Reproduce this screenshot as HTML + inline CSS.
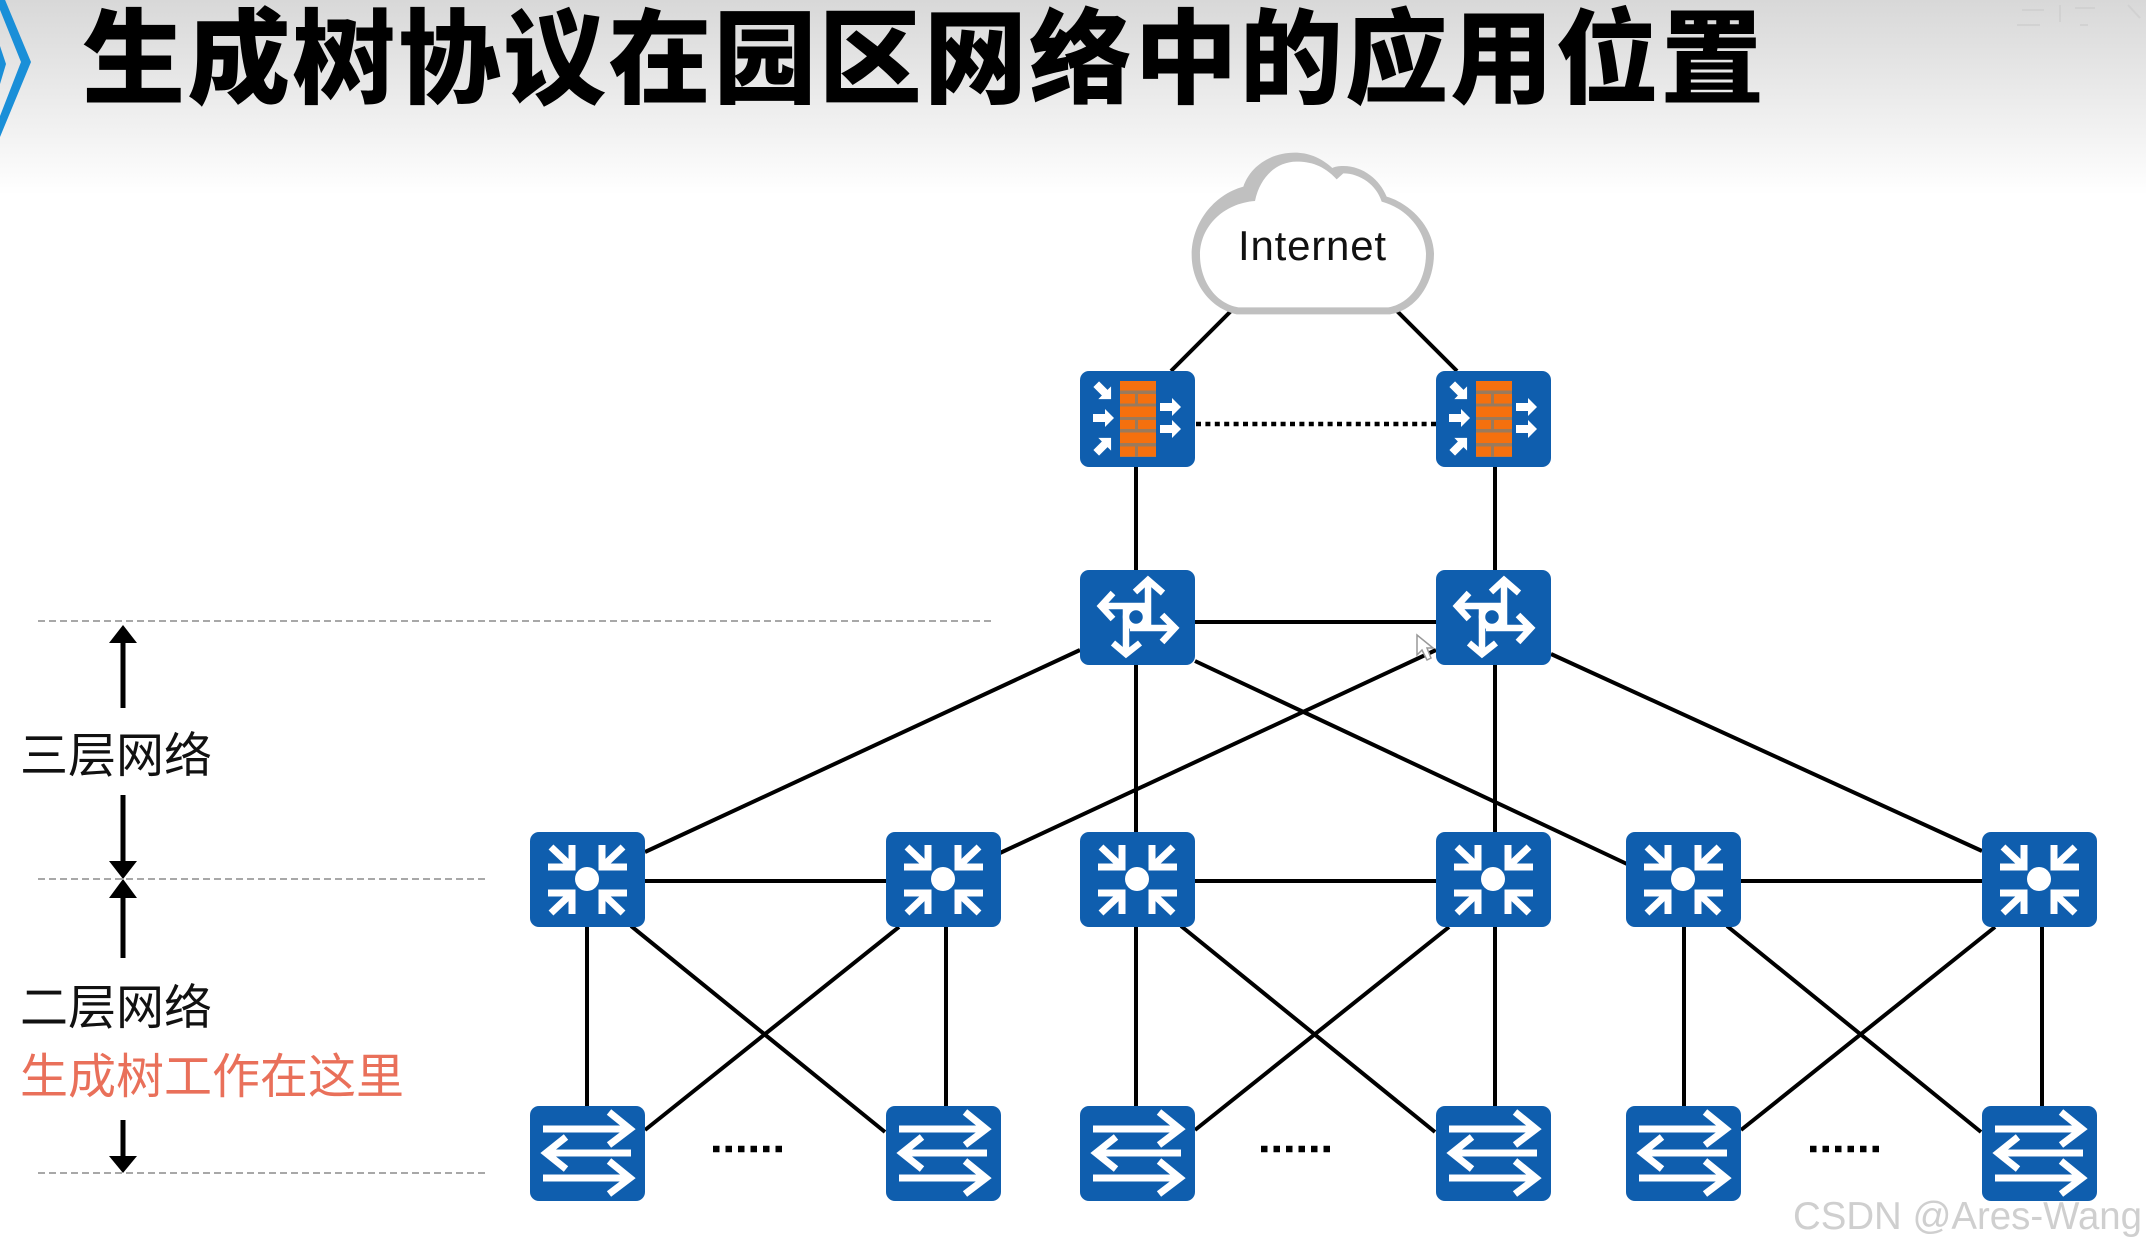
<!DOCTYPE html>
<html><head><meta charset="utf-8"><style>
html,body{margin:0;padding:0;background:#fff;width:2146px;height:1252px;overflow:hidden}
svg{display:block}
.cn{font-family:"Liberation Sans","Noto Sans CJK SC",sans-serif}
</style></head><body>
<svg width="2146" height="1252" viewBox="0 0 2146 1252" xmlns="http://www.w3.org/2000/svg">
<defs>
<linearGradient id="hd" x1="0" y1="0" x2="0" y2="1">
<stop offset="0" stop-color="#d8d8d8"/><stop offset=".5" stop-color="#ebebeb"/><stop offset="1" stop-color="#ffffff"/>
</linearGradient>
<polygon id="ar" points="-11,-4 1,-4 1,-9 10,0 1,9 1,4 -11,4" fill="#fff"/>
<g id="agg">
<rect width="115" height="95" rx="9" fill="#0f5eae"/>
<g fill="none" stroke="#fff" stroke-width="7">
<path d="M42 13V35H18M42 35L21 15"/>
<path d="M72 13V35H97M72 35L93 15"/>
<path d="M42 82V61H18M42 61L21 81"/>
<path d="M72 82V61H97M72 61L93 81"/>
</g>
<circle cx="57" cy="47" r="12" fill="#fff"/>
</g>
<g id="sw">
<rect width="115" height="95" rx="9" fill="#0f5eae"/>
<g fill="none" stroke="#fff" stroke-width="7">
<path d="M13 23H98M79 6L100 23L79 39"/>
<path d="M101 47H18M36 31L16 47L36 63"/>
<path d="M13 72H98M79 55L100 72L79 88"/>
</g>
</g>
<g id="rt">
<rect width="115" height="95" rx="9" fill="#0f5eae"/>
<g fill="none" stroke="#fff" stroke-width="6.5">
<path d="M68 56V10M55 22L68 10L83 23"/>
<path d="M50 58H94M82 45L95 58L82 72"/>
<path d="M46 38V84M33 73L46 84L60 73"/>
<path d="M68 36H21M33 23L21 36L33 49"/>
<circle cx="56" cy="47" r="10" fill="#0f5eae"/>
</g>
</g>
<g id="fw">
<rect width="115" height="96" rx="9" fill="#0f5eae"/>
<rect x="40" y="10" width="36" height="76" fill="#9a7a5c"/>
<g fill="#f5700e">
<rect x="40" y="10" width="36" height="9.5"/>
<rect x="40" y="23" width="15" height="9.5"/><rect x="58" y="23" width="18" height="9.5"/>
<rect x="40" y="35.5" width="36" height="10.5"/>
<rect x="40" y="49" width="15" height="9"/><rect x="58" y="49" width="18" height="9"/>
<rect x="40" y="61.5" width="36" height="10.5"/>
<rect x="40" y="75.5" width="15" height="10"/><rect x="58" y="75.5" width="18" height="10"/>
</g>
<use href="#ar" transform="translate(24,21) rotate(45)"/>
<use href="#ar" transform="translate(24,47)"/>
<use href="#ar" transform="translate(24,74) rotate(-45)"/>
<use href="#ar" transform="translate(91,36)"/>
<use href="#ar" transform="translate(91,58)"/>
</g>
</defs>

<rect width="2146" height="1252" fill="#fff"/>
<rect width="2146" height="195" fill="url(#hd)"/>

<!-- chevron -->
<polygon points="3,-5 31,62 0,137 0,116 21,62 -6,-5" fill="#1a8fd8"/>
<polygon points="0,46 6,64 0,84" fill="#1a8fd8"/>

<!-- faint marks top right -->
<g fill="none" stroke="#cdcdcd" stroke-width="2" opacity=".7">
<path d="M2017 25H2040M2022 10H2044M2060 5V22M2075 8H2095M2080 25H2088M2128 5L2140 18"/>
</g>

<!-- title -->
<text class="cn" x="82" y="95" font-size="103" letter-spacing="2.25" font-weight="900" fill="#000">生成树协议在园区网络中的应用位置</text>

<!-- connectors -->
<g stroke="#000" stroke-width="4" fill="none">
<path d="M1232 310L1171 371"/>
<path d="M1396 310L1457 371"/>
<path d="M1136 467V570"/>
<path d="M1495 467V570"/>
<path d="M1195 622H1436"/>
<path d="M1080 650L645 852"/>
<path d="M1436 650L1000 853"/>
<path d="M1195 661L1627 864"/>
<path d="M1551 654L1982 851"/>
<path d="M1136 665V832"/>
<path d="M1495 665V832"/>
<path d="M645 881H886"/>
<path d="M1195 881H1436"/>
<path d="M1741 881H1982"/>
<path d="M587 927V1106"/><path d="M946 927V1106"/>
<path d="M1136 927V1106"/><path d="M1495 927V1106"/>
<path d="M1684 927V1106"/><path d="M2042 927V1106"/>
<path d="M631 926L885 1132"/><path d="M899 927L645 1130"/>
<path d="M1181 926L1435 1132"/><path d="M1449 927L1195 1130"/>
<path d="M1727 926L1981 1132"/><path d="M1995 927L1741 1130"/>
</g>
<path d="M1196 424H1436" stroke="#000" stroke-width="4.5" stroke-dasharray="5 4.4" fill="none"/>

<!-- dots -->
<g stroke="#000" stroke-width="6.5" stroke-dasharray="6.5 6" fill="none">
<path d="M713 1149H782"/><path d="M1261 1149H1330"/><path d="M1810 1149H1879"/>
</g>

<!-- cloud -->
<g transform="translate(1170,140) scale(.33333)">
<path fill="#c0c0c0" d="M200 523L660 523C740 510 792 430 792 340C790 260 720 190 650 170C630 120 580 78 520 78C505 78 495 80 487 84C450 50 410 38 375 38C300 38 240 80 220 140C130 165 65 250 65 345C65 430 120 505 200 523Z"/>
<path fill="#fff" d="M205 502L655 502C725 490 768 420 768 340C765 270 710 205 635 185C620 135 570 100 520 100L500 118C460 75 420 65 380 65C320 65 270 110 255 183C160 190 90 260 90 345C90 420 135 490 205 502Z"/>
</g>
<text x="1238" y="260" font-family="'Liberation Sans',sans-serif" font-size="42" letter-spacing=".8" fill="#111">Internet</text>

<!-- nodes -->
<use href="#fw" x="1080" y="371"/><use href="#fw" x="1436" y="371"/>
<use href="#rt" x="1080" y="570"/><use href="#rt" x="1436" y="570"/>
<use href="#agg" x="530" y="832"/><use href="#agg" x="886" y="832"/>
<use href="#agg" x="1080" y="832"/><use href="#agg" x="1436" y="832"/>
<use href="#agg" x="1626" y="832"/><use href="#agg" x="1982" y="832"/>
<use href="#sw" x="530" y="1106"/><use href="#sw" x="886" y="1106"/>
<use href="#sw" x="1080" y="1106"/><use href="#sw" x="1436" y="1106"/>
<use href="#sw" x="1626" y="1106"/><use href="#sw" x="1982" y="1106"/>

<!-- cursor -->
<polygon points="1417,635 1417,655 1422,650 1427,660 1431,658 1427,648 1433,648" fill="#fff" stroke="#999" stroke-width="1.5"/>

<!-- dashed guides -->
<g stroke="#a8a8a8" stroke-width="2" stroke-dasharray="7 4" fill="none">
<path d="M38 621H992"/><path d="M38 879H485"/><path d="M38 1173H485"/>
</g>

<!-- level arrows -->
<g stroke="#000" stroke-width="5" fill="none">
<path d="M123 643V708"/><path d="M123 795V861"/><path d="M123 898V958"/><path d="M123 1120V1156"/>
</g>
<g fill="#000">
<polygon points="123,625 109,643 137,643"/>
<polygon points="123,879 109,861 137,861"/>
<polygon points="123,879 109,898 137,898"/>
<polygon points="123,1173 109,1156 137,1156"/>
</g>

<!-- level labels -->
<g class="cn" font-size="48">
<text x="20" y="772" fill="#111">三层网络</text>
<text x="20" y="1024" fill="#111">二层网络</text>
<text x="20" y="1093" fill="#e9705a">生成树工作在这里</text>
</g>

<!-- watermark -->
<text x="1793" y="1229" font-family="'Liberation Sans',sans-serif" font-size="39" textLength="349" lengthAdjust="spacingAndGlyphs" fill="#cfcfcf">CSDN @Ares-Wang</text>
</svg>
</body></html>
